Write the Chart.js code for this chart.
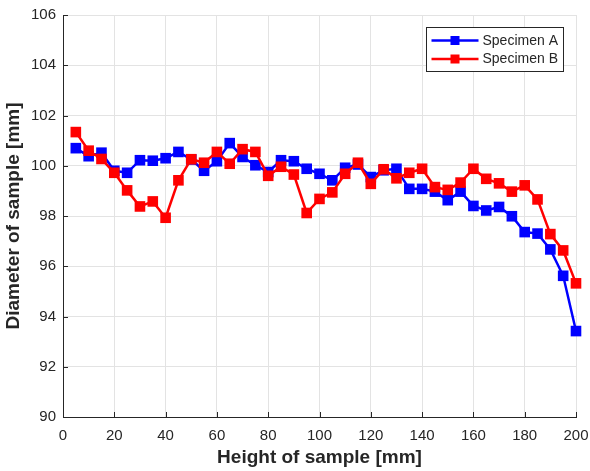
<!DOCTYPE html>
<html>
<head>
<meta charset="utf-8">
<script src="https://cdn.jsdelivr.net/npm/chart.js@4/dist/chart.umd.min.js"></script>
<style>
  html, body { margin: 0; padding: 0; background: #fff; }
  #wrap { width: 590px; height: 471px; }
</style>
</head>
<body>
<div id="wrap"><canvas id="diamChart" width="590" height="471"></canvas></div>
<script>
// heights along the sample [mm]
const heights = [5, 10, 15, 20, 25, 30, 35, 40, 45, 50,
                 55, 60, 65, 70, 75, 80, 85, 90, 95, 100,
                 105, 110, 115, 120, 125, 130, 135, 140, 145, 150,
                 155, 160, 165, 170, 175, 180, 185, 190, 195, 200];

const specimenA = [100.70, 100.38, 100.52, 99.80, 99.72, 100.22, 100.20, 100.30, 100.55, 100.25,
                   99.80, 100.18, 100.90, 100.35, 100.02, 99.75, 100.22, 100.18, 99.88, 99.68,
                   99.42, 99.92, 100.05, 99.55, 99.82, 99.88, 99.08, 99.08, 98.97, 98.63,
                   98.97, 98.40, 98.22, 98.36, 97.99, 97.36, 97.30, 96.67, 95.62, 93.42];

const specimenB = [101.34, 100.60, 100.27, 99.72, 99.02, 98.38, 98.58, 97.93, 99.42, 100.26,
                   100.12, 100.55, 100.08, 100.66, 100.55, 99.60, 99.96, 99.65, 98.12, 98.68,
                   98.94, 99.68, 100.12, 99.28, 99.86, 99.50, 99.72, 99.88, 99.15, 99.04,
                   99.33, 99.88, 99.48, 99.30, 98.97, 99.22, 98.66, 97.28, 96.63, 95.32];

const xTicks = [0, 20, 40, 60, 80, 100, 120, 140, 160, 180, 200];
const yTicks = [90, 92, 94, 96, 98, 100, 102, 104, 106];

const FONT = '"Liberation Sans", Arial, Helvetica, sans-serif';
const AXIS = '#262626';
const GRID = '#e3e3e3';

function toPoints(xs, ys){
    let pts = [];
    for(let i = 0; i < xs.length; i++){
        pts.push({x: xs[i], y: ys[i]})
    }
    return pts
}

// ticks drawn inside the plot, MATLAB style
const innerTicks = {
    id: 'innerTicks',
    afterDraw(chart){
        const ctx = chart.ctx;
        const area = chart.chartArea;
        const xs = chart.scales.x, ys = chart.scales.y;
        ctx.save();
        ctx.strokeStyle = AXIS;
        ctx.lineWidth = 1;
        ctx.beginPath();
        xTicks.forEach(v => {
            const px = Math.round(xs.getPixelForValue(v)) + 0.5;
            ctx.moveTo(px, area.bottom);
            ctx.lineTo(px, area.bottom - 5);
        });
        yTicks.forEach(v => {
            const py = Math.round(ys.getPixelForValue(v)) + 0.5;
            ctx.moveTo(area.left, py);
            ctx.lineTo(area.left + 5, py);
        });
        ctx.stroke();
        ctx.restore();
    }
};

// legend with line + square marker samples
const boxLegend = {
    id: 'boxLegend',
    afterDatasetsDraw(chart){
        const ctx = chart.ctx;
        const area = chart.chartArea;
        const w = 137, h = 44;
        const left = Math.round(area.right - 13 - w) + 0.5;
        const top = Math.round(area.top + 12) + 0.5;
        ctx.save();
        ctx.fillStyle = '#ffffff';
        ctx.fillRect(left, top, w, h);
        ctx.strokeStyle = AXIS;
        ctx.lineWidth = 1;
        ctx.strokeRect(left, top, w, h);
        ctx.font = '14px ' + FONT;
        ctx.textBaseline = 'middle';
        chart.data.datasets.forEach((ds, i) => {
            const y = top + 13 + i * 18.5;
            ctx.strokeStyle = ds.borderColor;
            ctx.lineWidth = 2.5;
            ctx.beginPath();
            ctx.moveTo(left + 5, y);
            ctx.lineTo(left + 52, y);
            ctx.stroke();
            ctx.fillStyle = ds.borderColor;
            ctx.fillRect(left + 28.5 - 4.5, y - 4.5, 9, 9);
            ctx.fillStyle = AXIS;
            ctx.fillText(ds.label, left + 56, y + 0.5);
        });
        ctx.restore();
    }
};

const config = {
    type: 'line',
    data: {
        datasets: [
            {
                label: 'Specimen A',
                data: toPoints(heights, specimenA),
                borderColor: '#0000ff',
                backgroundColor: '#0000ff',
                borderWidth: 2.5,
                pointStyle: 'rect',
                pointRadius: 7.5,
                pointBorderWidth: 0,
                tension: 0,
                clip: false,
                order: 1
            },
            {
                label: 'Specimen B',
                data: toPoints(heights, specimenB),
                borderColor: '#ff0000',
                backgroundColor: '#ff0000',
                borderWidth: 2.5,
                pointStyle: 'rect',
                pointRadius: 7.5,
                pointBorderWidth: 0,
                tension: 0,
                clip: false,
                order: 0
            }
        ]
    },
    options: {
        responsive: false,
        animation: false,
        events: [],
        layout: { padding: { top: 15, right: 14, left: 0, bottom: 0 } },
        plugins: {
            legend: { display: false },
            tooltip: { enabled: false }
        },
        scales: {
            x: {
                type: 'linear',
                min: 0,
                max: 200,
                afterBuildTicks: (scale) => { scale.ticks = xTicks.map(v => ({value: v})) },
                afterFit: (scale) => {
                    scale.height = 54;
                    scale.paddingLeft = 0;
                    scale.paddingRight = 0;
                },
                border: { display: true, color: AXIS, width: 1 },
                grid: { color: GRID, lineWidth: 1, drawTicks: false },
                ticks: { color: AXIS, padding: 10, font: { family: FONT, size: 15 }, maxRotation: 0 },
                title: {
                    display: true,
                    text: 'Height of sample [mm]',
                    color: AXIS,
                    padding: { top: 0, bottom: 1.5 },
                    font: { family: FONT, size: 19, weight: 'bold' }
                }
            },
            y: {
                min: 90,
                max: 106,
                afterBuildTicks: (scale) => { scale.ticks = yTicks.map(v => ({value: v})) },
                afterFit: (scale) => {
                    scale.width = 63;
                    scale.paddingTop = 0;
                    scale.paddingBottom = 0;
                },
                border: { display: true, color: AXIS, width: 1 },
                grid: { color: GRID, lineWidth: 1, drawTicks: false },
                ticks: { color: AXIS, padding: 7, font: { family: FONT, size: 15 } },
                title: {
                    display: true,
                    text: 'Diameter of sample [mm]',
                    color: AXIS,
                    padding: { top: 2.5, bottom: 0 },
                    font: { family: FONT, size: 19, weight: 'bold' }
                }
            }
        }
    },
    plugins: [innerTicks, boxLegend]
};

new Chart(document.getElementById('diamChart'), config);
</script>
</body>
</html>
